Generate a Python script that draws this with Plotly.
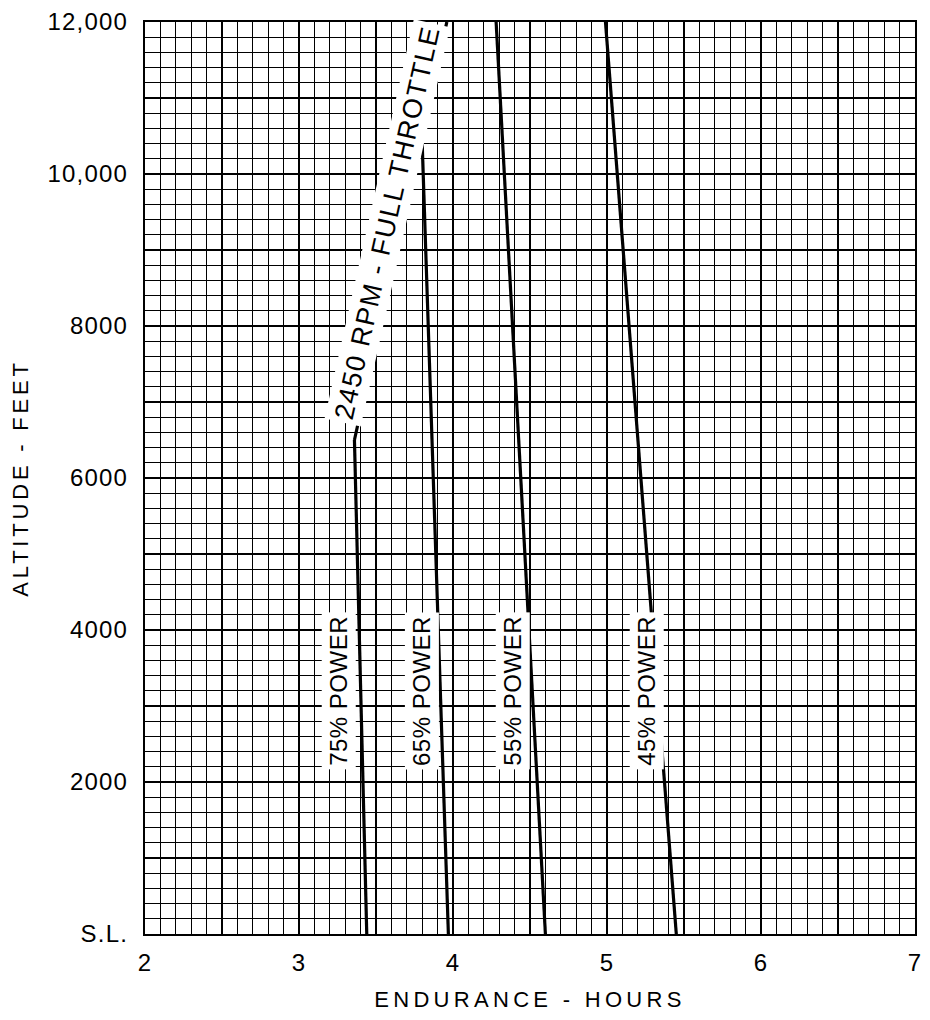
import plotly.graph_objects as go

# ---------------- data ----------------
x_range = [2, 7]
y_range = [0, 12000]
x_ticks = [2, 3, 4, 5, 6, 7]
x_tick_labels = ["2", "3", "4", "5", "6", "7"]
y_ticks = [0, 2000, 4000, 6000, 8000, 10000, 12000]
y_tick_labels = ["S.L.", "2000", "4000", "6000", "8000", "10,000", "12,000"]

hours_75 = [3.44, 3.36]
alt_75 = [0, 6500]
hours_65 = [3.97, 3.80]
alt_65 = [0, 10400]
hours_55 = [4.60, 4.28]
alt_55 = [0, 12000]
hours_45 = [5.45, 4.99]
alt_45 = [0, 12000]
hours_full_throttle = [3.36, 3.96]
alt_full_throttle = [6500, 12000]

power_labels = ["75% POWER", "65% POWER", "55% POWER", "45% POWER"]
throttle_label = "2450 RPM - FULL THROTTLE"
x_title = "ENDURANCE - HOURS"
y_title = "ALTITUDE - FEET"

FONT = "Liberation Sans, Arial, Helvetica, sans-serif"


def spaced(text, px):
    return '<span style="letter-spacing:%spx">%s</span>' % (px, text)


fig = go.Figure()

line_style = dict(color="black", width=3.2)
for hx, ay in [
    (hours_75, alt_75),
    (hours_65, alt_65),
    (hours_55, alt_55),
    (hours_45, alt_45),
    (hours_full_throttle, alt_full_throttle),
]:
    fig.add_trace(go.Scatter(x=hx, y=ay, mode="lines", line=line_style,
                             showlegend=False, hoverinfo="skip",
                             xaxis="x2", yaxis="y2"))

# ---------------- labels ----------------
label_positions = [(3.26, 3200), (3.80, 3200), (4.39, 3200), (5.26, 3200)]
annotations = []
for text, (lx, ly) in zip(power_labels, label_positions):
    annotations.append(dict(
        x=lx, y=ly, xref="x", yref="y", text=spaced(text, 0.5),
        showarrow=False, textangle=-90, bgcolor="white", borderpad=3,
        font=dict(family=FONT, size=24, color="black"),
        xanchor="center", yanchor="middle"))

annotations.append(dict(
    x=3.575, y=9350, xref="x", yref="y", text=spaced(throttle_label, 1.5),
    showarrow=False, textangle=-77.4, bgcolor="white", borderpad=3,
    font=dict(family=FONT, size=27, color="black"),
    xanchor="center", yanchor="middle"))

axis_font = dict(family=FONT, size=24, color="black")

# the page body keeps its default 8px margin, so the figure is sized to fit
# inside the 930x1020 window without overflow
fig.update_layout(
    width=914, height=1004,
    margin=dict(l=137, r=7, t=14, b=78),
    paper_bgcolor="white", plot_bgcolor="white",
    showlegend=False,
    font=dict(family=FONT, color="black"),
    annotations=annotations,
    xaxis=dict(
        range=x_range, tickmode="array", tickvals=x_ticks,
        ticktext=[spaced(t, 1) for t in x_tick_labels],
        tickfont=axis_font, ticks="", ticklabelstandoff=6,
        ticklabeloverflow="allow",
        showgrid=True, gridcolor="black", gridwidth=2.2,
        minor=dict(dtick=0.1, tick0=2, showgrid=True, gridcolor="black", gridwidth=1.4),
        showline=True, linecolor="black", linewidth=2.2, mirror=True,
        zeroline=False, fixedrange=True, automargin=False,
        title=dict(text=spaced(x_title, 4.3), standoff=18,
                   font=dict(family=FONT, size=22, color="black")),
    ),
    yaxis=dict(
        range=y_range, tickmode="array", tickvals=y_ticks,
        ticktext=[spaced(t, 1.2) for t in y_tick_labels],
        tickfont=axis_font, ticks="", ticklabelstandoff=10,
        ticklabeloverflow="allow",
        showgrid=True, gridcolor="black", gridwidth=2.2,
        minor=dict(dtick=200, tick0=0, showgrid=True, gridcolor="black", gridwidth=1.4),
        showline=True, linecolor="black", linewidth=2.2, mirror=True,
        zeroline=False, fixedrange=True, automargin=False,
        title=dict(text=spaced(y_title, 3.8), standoff=16,
                   font=dict(family=FONT, size=22, color="black")),
    ),
    # overlay axes: medium-weight lines every 0.5 h / 1000 ft
    xaxis2=dict(
        range=x_range, overlaying="x", dtick=0.5, tick0=2,
        showgrid=True, gridcolor="black", gridwidth=1.8,
        showticklabels=False, ticks="", zeroline=False, showline=False,
        fixedrange=True, automargin=False,
    ),
    yaxis2=dict(
        range=y_range, overlaying="y", dtick=1000, tick0=0,
        showgrid=True, gridcolor="black", gridwidth=1.8,
        showticklabels=False, ticks="", zeroline=False, showline=False,
        fixedrange=True, automargin=False,
    ),
)

fig.write_html("out.html")
